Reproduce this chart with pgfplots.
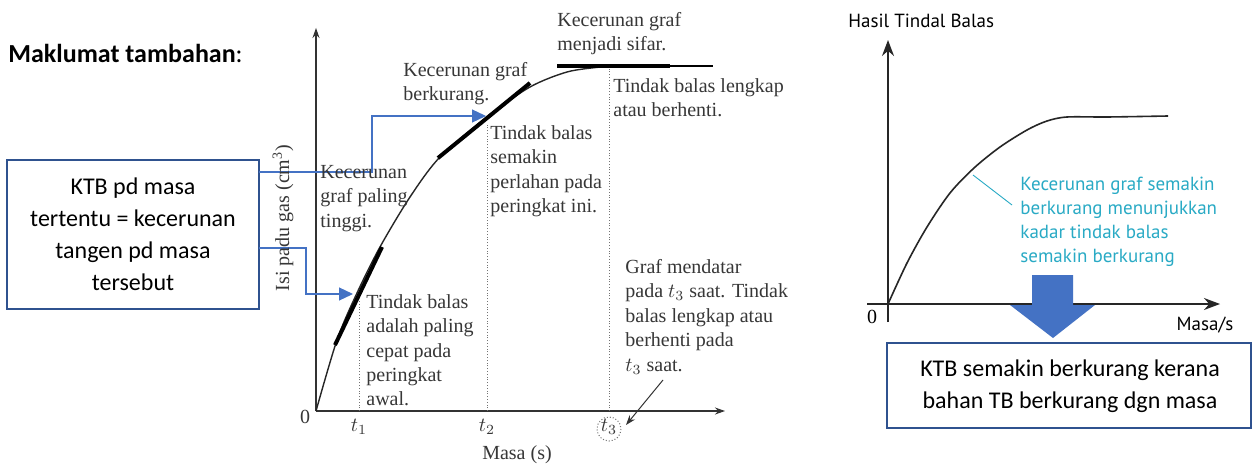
\documentclass[border=0pt]{standalone}
\usepackage{pgfplots}
\pgfplotsset{compat=1.18}
\usepackage{fontspec}
\setmainfont{Liberation Serif}
\newfontfamily\carlito{Carlito}
\newfontfamily\ptsans{PT Sans}
\usetikzlibrary{arrows.meta}
\definecolor{boxblue}{RGB}{47,82,143}
\definecolor{connblue}{RGB}{68,114,196}
\definecolor{teal1}{RGB}{41,170,197}
\definecolor{greytext}{RGB}{55,55,55}

\newcommand\serif{\fontsize{10}{12.2}\selectfont}

\begin{document}
\begin{tikzpicture}
\path[use as bounding box, fill=white] (0,0) rectangle (626.5pt,-233pt);

% left graph: isi padu gas vs masa (px offsets from origin)
\begin{axis}[
  at={(158pt,-205.5pt)}, anchor=south west,
  scale only axis, width=204.5pt, height=191.5pt,
  xmin=0, xmax=409, ymin=0, ymax=383,
  axis lines=left,
  axis line style={line width=0.55pt, black!80, -{Stealth[length=5pt,width=3.5pt]}},
  xtick={43,171,293}, xticklabels={$t_1$,$t_2$,$t_3$}, ytick=\empty,
  major tick length=0pt,
  xticklabel style={yshift=-0.5pt, font=\serif, text=greytext},
  clip=false,
]
\addplot[greytext!70, densely dotted, line width=0.4pt] coordinates {(43,0)(43,110)};
\addplot[greytext!70, densely dotted, line width=0.4pt] coordinates {(171,0)(171,286)};
\addplot[greytext!70, densely dotted, line width=0.4pt] coordinates {(293,0)(293,343)};
\addplot[black!85, smooth, line width=0.7pt] coordinates
  {(0,0)(21,71)(41,118)(64,164)(94,214)(124,254)(171,294)(214,324)(251,339)(284,344)(294,345)};
\addplot[black, line width=2pt] coordinates {(19,66)(66,164)};
\addplot[black, line width=2pt] coordinates {(122,253)(214,328)};
\addplot[black, line width=0.9pt] coordinates {(241,345)(397,345)};
\addplot[black, line width=2pt] coordinates {(241,345)(354,345)};
\end{axis}

% right graph: hasil tindak balas vs masa
\begin{axis}[
  at={(433.5pt,-161pt)}, anchor=south west,
  scale only axis, width=176.5pt, height=141pt,
  xmin=-21, xmax=332, ymin=-18, ymax=264,
  axis lines=middle,
  axis line style={line width=0.8pt, black!85, -{Stealth[length=8pt,width=6pt]}},
  ticks=none, clip=false,
]
\addplot[black!85, smooth, line width=0.8pt] coordinates
  {(0,0)(19,41)(39,77)(62,111)(86,136)(112,157)(139,174)(159,183)(179,187)(219,187)(280,188)};
\end{axis}

\begin{scope}[x=0.5pt, y=-0.5pt]
% heading and left box
\node[anchor=west, inner sep=0, font=\carlito\bfseries\fontsize{13}{15}\selectfont] at (8,53) {Maklumat tambahan\textmd{:}};
\draw[boxblue, line width=1.1pt] (7,160) rectangle (259,309);
\node[align=center, font=\carlito\fontsize{12}{16}\selectfont] at (133,234.5)
  {KTB pd masa\\tertentu = kecerunan\\tangen pd masa\\tersebut};
\draw[connblue, line width=0.6pt, -{Triangle[length=7pt,width=6.5pt]}]
  (259,172) -- (372,172) -- (372,116) -- (486,116);
\draw[connblue, line width=0.6pt, -{Triangle[length=7pt,width=6.5pt]}]
  (259,248) -- (306,248) -- (306,294) -- (353,294);

% left graph texts
\begin{scope}[every node/.style={anchor=north west, inner sep=0, align=left, font=\serif, text=greytext}]
\node at (557,12) {Kecerunan graf\\menjadi sifar.};
\node at (403,62) {Kecerunan graf\\berkurang.};
\node at (613,78) {Tindak balas lengkap\\atau berhenti.};
\node at (490,125) {Tindak balas\\semakin\\perlahan pada\\peringkat ini.};
\node at (320,165) {Kecerunan\\graf paling\\tinggi.};
\node at (366,294) {Tindak balas\\adalah paling\\cepat pada\\peringkat\\awal.};
\node at (625,259) {Graf mendatar\\pada $t_3$ saat. Tindak\\balas lengkap atau\\berhenti pada\\$t_3$ saat.};
\end{scope}
\node[font=\serif, text=greytext] at (305,417) {0};
\node[font=\serif, text=greytext] at (517,455) {Masa (s)};
\node[rotate=90, font=\serif, text=greytext] at (283,218) {Isi padu gas (cm\textsuperscript{3})};
\draw[greytext!70, densely dotted, line width=0.5pt] (609,429) circle [radius=12];
\draw[black!80, line width=0.5pt, -{Stealth[length=5pt,width=3.5pt]}] (663,380) -- (626,425);

% right graph texts
\node[anchor=west, inner sep=0, font=\ptsans\fontsize{9.5}{11}\selectfont] at (848,21) {Hasil Tindal Balas};
\node[font=\serif] at (872,317) {0};
\node[font=\ptsans\fontsize{9.5}{11}\selectfont] at (1205,325) {Masa/s};
\draw[teal1, line width=0.45pt] (973,175) -- (1012,205);
\node[anchor=north west, inner sep=0, align=left, text=teal1, font=\ptsans\fontsize{9.5}{12}\selectfont] at (1020,177)
  {Kecerunan graf semakin\\berkurang menunjukkan\\kadar tindak balas\\semakin berkurang};

% block arrow and bottom box
\fill[connblue] (1032,275) -- (1073,275) -- (1073,305) -- (1095,305) -- (1053,338) -- (1010,305) -- (1032,305) -- cycle;
\draw[boxblue, line width=1.1pt] (887,343) rectangle (1251,428);
\node[align=center, font=\carlito\fontsize{12}{16}\selectfont] at (1070,386)
  {KTB semakin berkurang kerana\\bahan TB berkurang dgn masa};
\end{scope}
\end{tikzpicture}
\end{document}
